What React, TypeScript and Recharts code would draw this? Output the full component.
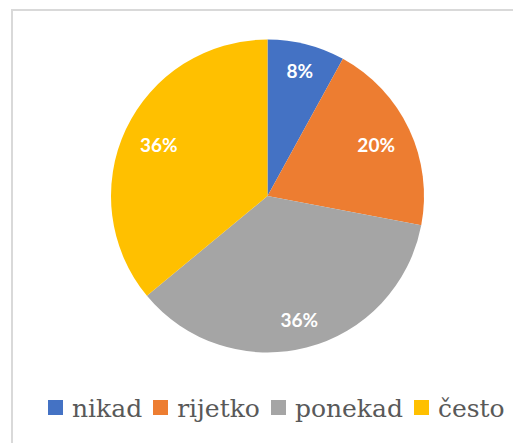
import { PieChart, Pie, Cell } from "recharts";

const categories = ["nikad", "rijetko", "ponekad", "često"];
const shares = [8, 20, 36, 36];
const colors = ["#4472C4", "#ED7D31", "#A5A5A5", "#FFC000"];

const data = categories.map((name, i) => ({ name, value: shares[i] }));

const RAD = Math.PI / 180;
const LABEL_SIZE = 19;

// label box pushed out along the mid angle until its outer corner touches 0.9 * radius
// eslint-disable-next-line @typescript-eslint/no-explicit-any
function SliceLabel(props: any) {
  const { cx, cy, midAngle, outerRadius, value } = props;
  const text = `${value}%`;
  const w = text.length * 0.68 * LABEL_SIZE;
  const h = 15;
  const ux = Math.cos(-midAngle * RAD);
  const uy = Math.sin(-midAngle * RAD);
  const vx = Math.sign(ux) * (w / 2);
  const vy = Math.sign(uy) * (h / 2);
  const R = outerRadius * 0.9;
  const dot = ux * vx + uy * vy;
  const t = -dot + Math.sqrt(dot * dot - (vx * vx + vy * vy) + R * R);
  return (
    <text
      x={cx + t * ux}
      y={cy + t * uy}
      fill="#fff"
      textAnchor="middle"
      dominantBaseline="central"
      fontFamily="Lato, 'Open Sans', sans-serif"
      fontWeight="bold"
      fontSize={LABEL_SIZE}
    >
      {text}
    </text>
  );
}

export default function App() {
  return (
    <div style={{ position: "absolute", left: 0, top: 0, width: 513, height: 443, background: "#fff", overflow: "hidden" }}>
      <style>{`.recharts-pie-sectors { filter: drop-shadow(0 2px 9px rgba(0,0,0,0.26)); }`}</style>
      <div
        style={{
          position: "absolute",
          left: 11,
          top: 9,
          width: 520,
          height: 450,
          borderTop: "2px solid #d9d9d9",
          borderLeft: "2px solid #d9d9d9",
        }}
      />
      <div style={{ position: "absolute", left: 0, top: 0 }}>
        <PieChart width={513} height={380} margin={{ top: 0, right: 0, bottom: 0, left: 0 }}>
          <Pie
            data={data}
            dataKey="value"
            nameKey="name"
            cx={267.5}
            cy={196}
            outerRadius={156.5}
            startAngle={90}
            endAngle={-270}
            stroke="none"
            label={<SliceLabel />}
            labelLine={false}
            isAnimationActive={false}
          >
            {data.map((d, i) => (
              <Cell key={d.name} fill={colors[i]} />
            ))}
          </Pie>
        </PieChart>
      </div>
      <div
        style={{
          position: "absolute",
          left: 48,
          top: 392,
          display: "flex",
          alignItems: "center",
          lineHeight: "30px",
          fontFamily: "DejaVu Serif",
          fontSize: 25,
          color: "#595959",
          whiteSpace: "nowrap",
        }}
      >
        {categories.map((c, i) => (
          <div key={c} style={{ display: "flex", alignItems: "center", marginRight: 11 }}>
            <span style={{ width: 15, height: 15, background: colors[i], marginRight: 9, display: "inline-block" }} />
            <span style={{ position: "relative", top: 2 }}>{c}</span>
          </div>
        ))}
      </div>
    </div>
  );
}
